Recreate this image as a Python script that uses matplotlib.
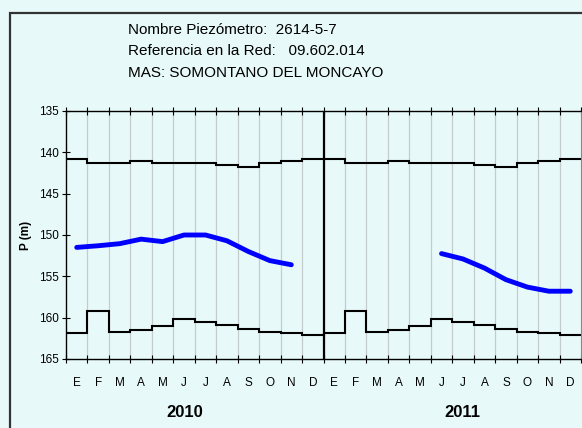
import numpy as np
import matplotlib.pyplot as plt
from matplotlib.patches import Rectangle

plt.rcParams['font.family'] = ['Liberation Sans', 'DejaVu Sans']

# Data
months = ['E', 'F', 'M', 'A', 'M', 'J', 'J', 'A', 'S', 'O', 'N', 'D']
years = ['2010', '2011']
max_level = [140.8, 141.25, 141.25, 141.05, 141.25, 141.25, 141.25, 141.55, 141.8, 141.25, 141.05, 140.8]
min_level = [161.9, 159.2, 161.7, 161.45, 161.0, 160.2, 160.5, 160.9, 161.4, 161.7, 161.9, 162.1]
nan = np.nan
level_2010 = [151.5, 151.3, 151.05, 150.5, 150.8, 150.0, 150.0, 150.7, 152.0, 153.1, 153.6, nan]
level_2011 = [nan, nan, nan, nan, nan, 152.25, 152.9, 154.0, 155.4, 156.3, 156.8, 156.8]

bg = '#e8f9f9'
fig = plt.figure(figsize=(5.82, 4.28), dpi=100, facecolor=bg)
fig.patches.append(Rectangle((9.5 / 582, -0.1), 1.2, 1 - 13 / 428 + 0.1, transform=fig.transFigure,
                             fill=False, edgecolor='#333333', linewidth=1.6))

ax = fig.add_axes([66 / 582, 1 - 359 / 428, 515 / 582, 248 / 428])
ax.set_facecolor(bg)

n = len(months) * len(years)
edges = np.arange(n + 1)
ax.stairs(max_level * len(years), edges, color='black', linewidth=1.5, baseline=None)
ax.stairs(min_level * len(years), edges, color='black', linewidth=1.5, baseline=None)

centers = np.arange(n) + 0.5
ax.plot(centers, level_2010 + level_2011, color='#0000ff', linewidth=3.5, solid_capstyle='round')

# month gridlines and year divider
for e in edges[1:-1]:
    ax.axvline(e, color='#c4cccc', linewidth=0.9, zorder=0)
ax.axvline(12, color='black', linewidth=1.6)

ax.set_xlim(0, n)
ax.set_ylim(165, 135)
ax.set_yticks(np.arange(135, 166, 5))
ax.set_xticks(edges)
ax.set_xticklabels([])
ax.set_xticks(centers, minor=True)
ax.set_xticklabels(months * len(years), minor=True, fontsize=8.5)
ax.tick_params(axis='x', which='minor', length=0, pad=13)
ax.tick_params(axis='x', which='major', direction='inout', length=6, top=True, width=0.8)
ax.tick_params(axis='y', direction='inout', length=6, labelsize=8.5, pad=2, width=0.8)

for s in ['left', 'bottom', 'top']:
    ax.spines[s].set_linewidth(1.0)
ax.spines['right'].set_color('#888888')

ax.set_ylabel('P (m)', fontsize=8.5, fontweight='bold', labelpad=5)

ax.text(5.55, -0.215, years[0], transform=ax.get_xaxis_transform(), ha='center', va='center',
        fontsize=12, fontweight='bold')
ax.text(18.45, -0.215, years[1], transform=ax.get_xaxis_transform(), ha='center', va='center',
        fontsize=12, fontweight='bold')

fig.text(128 / 582, 1 - 30 / 428, 'Nombre Piezómetro:  2614-5-7', fontsize=11, va='center')
fig.text(128 / 582, 1 - 51 / 428, 'Referencia en la Red:   09.602.014', fontsize=11, va='center')
fig.text(128 / 582, 1 - 73 / 428, 'MAS: SOMONTANO DEL MONCAYO', fontsize=11, va='center')

fig.savefig('out.png', dpi=100, facecolor=bg)
